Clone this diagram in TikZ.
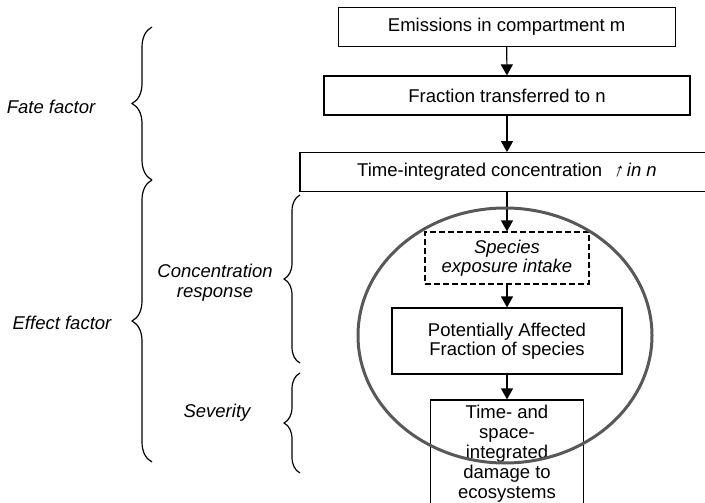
\documentclass[tikz,border=0pt]{standalone}
\usepackage{fontspec}
\setmainfont{Liberation Sans}
\newfontfamily\slantarrow[FakeSlant=0.35]{Liberation Sans}
\usetikzlibrary{arrows.meta,decorations.pathreplacing}
\definecolor{ringgray}{RGB}{88,88,88}

\begin{document}
\begin{tikzpicture}[x=1pt, y=-1pt,
	font=\fontsize{18.5}{20}\selectfont,
	stepbox/.style={draw, line width=1.2pt, inner sep=0pt, align=center},
	flow/.style={-{Triangle[width=12pt, length=11pt]}, line width=1.2pt},
	curly/.style={decorate, decoration={brace, amplitude=#1}, line width=1.2pt},
	lab/.style={font=\fontsize{18.5}{20}\selectfont\itshape, align=center}]
	\useasboundingbox (0,0) rectangle (705,503);
	% Boxes of the chain:
	\node[stepbox, minimum width=337pt, minimum height=39pt](emis) at (506.7, 27){Emissions in compartment m};
	\node[stepbox, minimum width=366pt, minimum height=39pt](frac) at (507, 95.5){Fraction transferred to n};
	\node[stepbox, minimum width=414pt, minimum height=39pt](conc) at (507, 172.2){Time-integrated concentration \ {\slantarrow ↑} \textit{in n}};
	\node[stepbox, dash pattern=on 6pt off 3pt, minimum width=164pt, minimum height=52pt, font=\fontsize{18.5}{19}\selectfont\itshape](expo) at (507, 258){Species\\exposure intake};
	\node[stepbox, minimum width=230pt, minimum height=66pt, font=\fontsize{18.5}{19}\selectfont](paf) at (507, 341){Potentially Affected\\Fraction of species};
	\node[stepbox, minimum width=153pt, minimum height=107pt](dmg) at (507, 453.5){Time- and\\space-\\integrated\\damage to\\ecosystems};
	% Arrows:
	\draw[flow] (emis) -- (frac);
	\draw[flow] (frac) -- (conc);
	\draw[flow] (conc) -- (expo);
	\draw[flow] (expo) -- (paf);
	\draw[flow] (paf) -- (dmg);
	% Ring round the effect part:
	\draw[ringgray, line width=3pt] (505, 335.5) ellipse [x radius=147pt, y radius=127.5pt];
	% Braces and their labels:
	\draw[curly=20pt] (152, 180) -- (152, 27);
	\draw[curly=20pt] (152, 462) -- (152, 180);
	\draw[curly=16pt] (300, 363) -- (300, 195);
	\draw[curly=16pt] (300, 473) -- (300, 373);
	\node[lab](fate) at (51, 107){Fate factor};
	\node[lab](effect) at (62, 323){Effect factor};
	\node[lab](cresp) at (215, 283){Concentration\\response};
	\node[lab](sev) at (217, 413){Severity};
\end{tikzpicture}
\end{document}
